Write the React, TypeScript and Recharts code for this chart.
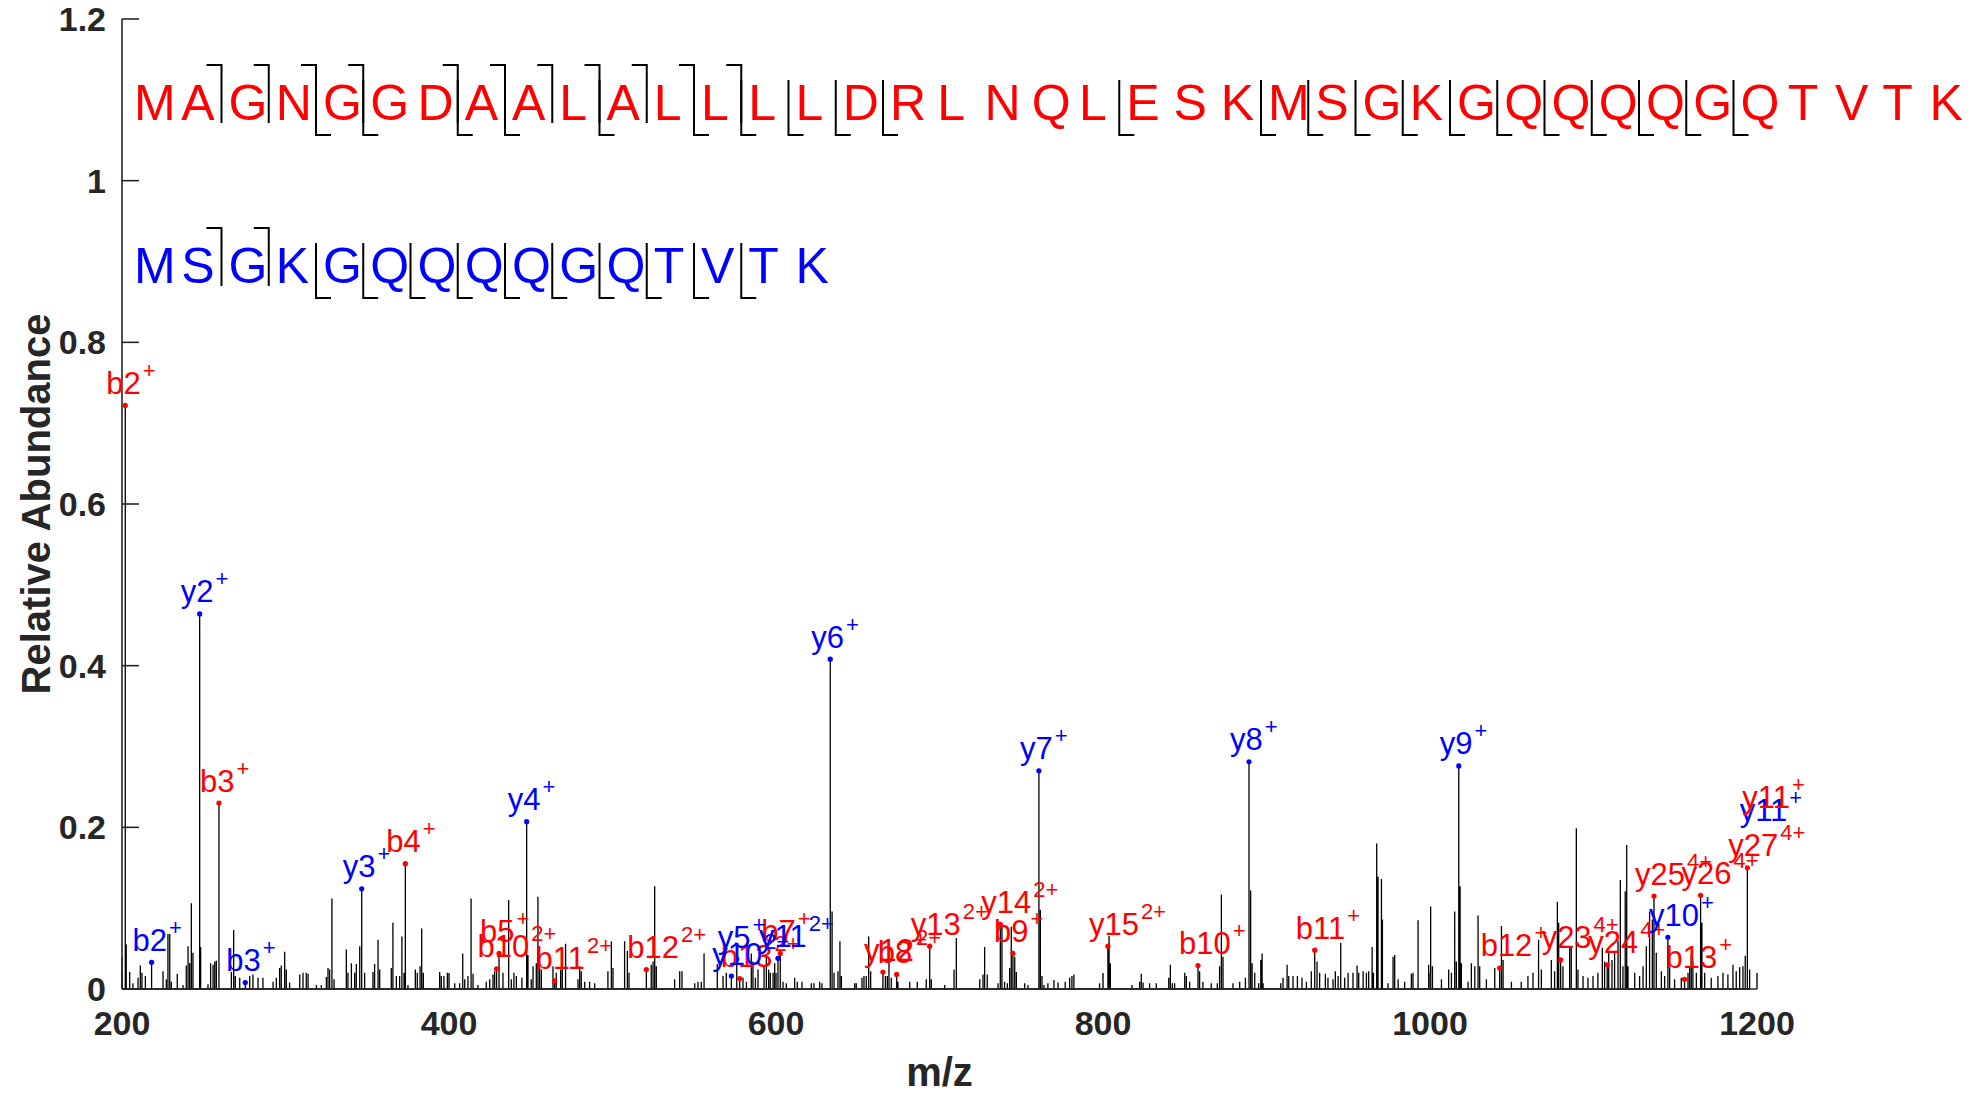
import { ComposedChart, Line, Scatter, XAxis, YAxis, ReferenceDot } from 'recharts'

const FONT = '"Liberation Sans", Arial, Helvetica, sans-serif'
const INK = '#262626'
const RED = '#ff0000'
const BLUE = '#0000ff'

const xTicks = [200, 400, 600, 800, 1000, 1200]
const yTicks = [0, 0.2, 0.4, 0.6, 0.8, 1, 1.2]

const redSequence = 'MAGNGGDAALALLLLDRLNQLESKMSGKGQQQQGQTVTK'
const blueSequence = 'MSGKGQQQQGQTVTK'

// cleavage sites (after residue n) with a matched b / y fragment
const redBSites = [2, 3, 4, 5, 7, 8, 9, 10, 11, 12, 13]
const redYSites = [4, 5, 7, 8, 10, 12, 13, 14, 15, 16, 21, 24, 25, 26, 27, 28, 29, 30, 31, 32, 33, 34]
const blueBSites = [2, 3]
const blueYSites = [4, 5, 6, 7, 8, 9, 10, 11, 12, 13]

// [ion, charge, m/z, relative abundance]
type Ion = [string, string, number, number]

const redIons: Ion[] = [
  ['b2', '+', 202.0, 0.722], ['b3', '+', 259.3, 0.23], ['b4', '+', 373.3, 0.155],
  ['b10', '2+', 429.1, 0.025], ['b5', '+', 430.6, 0.044], ['b11', '2+', 464.6, 0.01],
  ['b12', '2+', 520.7, 0.024], ['b13', '2+', 577.8, 0.013], ['b7', '+', 602.6, 0.044],
  ['y12', '2+', 665.4, 0.021], ['b8', '+', 673.8, 0.018], ['y13', '2+', 694.0, 0.053],
  ['y14', '2+', 737.2, 0.08], ['b9', '+', 744.9, 0.044], ['y15', '2+', 803.0, 0.053],
  ['b10', '+', 858.1, 0.029], ['b11', '+', 929.5, 0.048], ['b12', '+', 1042.6, 0.026],
  ['y23', '4+', 1079.9, 0.036], ['y24', '4+', 1108.4, 0.03], ['y25', '4+', 1137.0, 0.115],
  ['b13', '+', 1155.7, 0.012], ['y26', '4+', 1165.5, 0.116], ['y27', '4+', 1194.1, 0.15],
  ['y11', '+', 1202.6, 0.21],
]

const blueIons: Ion[] = [
  ['b2', '+', 218.1, 0.033], ['y2', '+', 247.5, 0.464], ['b3', '+', 275.4, 0.008],
  ['y3', '+', 346.6, 0.124], ['y4', '+', 447.5, 0.207], ['y10', '2+', 572.7, 0.016],
  ['y5', '+', 576.0, 0.037], ['y11', '2+', 601.2, 0.038], ['y6', '+', 633.2, 0.408],
  ['y7', '+', 760.8, 0.27], ['y8', '+', 889.3, 0.281], ['y9', '+', 1017.6, 0.276],
  ['y10', '+', 1145.5, 0.064], ['y11', '+', 1201.0, 0.193],
]

// unassigned peaks [m/z, relative abundance]
const peaks: [number, number][] = [
  [200.0, 0.04], [202.6, 0.055], [204.7, 0.021], [206.7, 0.007], [209.8, 0.014], [211.2, 0.029],
  [212.2, 0.02], [214.3, 0.016], [225.1, 0.022], [227.1, 0.012], [228.1, 0.068], [229.2, 0.068],
  [230.2, 0.009], [233.8, 0.019], [237.3, 0.005], [239.3, 0.029], [240.4, 0.053], [241.4, 0.032],
  [242.4, 0.106], [243.4, 0.045], [248.1, 0.052], [252.6, 0.006], [254.2, 0.032], [255.7, 0.03],
  [256.7, 0.034], [257.7, 0.035], [266.9, 0.021], [268.3, 0.073], [269.3, 0.016], [272.0, 0.014],
  [278.1, 0.016], [280.1, 0.018], [283.2, 0.014], [286.2, 0.014], [292.4, 0.009], [294.4, 0.014],
  [296.4, 0.026], [297.4, 0.029], [299.5, 0.046], [300.5, 0.024], [302.5, 0.008], [308.7, 0.018],
  [310.7, 0.02], [312.7, 0.02], [313.8, 0.019], [318.9, 0.005], [321.9, 0.005], [325.0, 0.015],
  [326.0, 0.026], [327.0, 0.024], [328.4, 0.112], [329.7, 0.012], [337.2, 0.049], [338.2, 0.02],
  [340.3, 0.032], [342.3, 0.02], [343.3, 0.031], [345.4, 0.053], [348.4, 0.02], [353.5, 0.021],
  [354.5, 0.031], [356.6, 0.061], [357.6, 0.024], [364.7, 0.026], [365.7, 0.082], [367.8, 0.016],
  [369.8, 0.016], [371.2, 0.065], [372.5, 0.02], [374.9, 0.005], [379.4, 0.024], [380.6, 0.02],
  [382.3, 0.028], [383.3, 0.075], [384.3, 0.02], [394.3, 0.021], [395.3, 0.016], [396.9, 0.016],
  [399.0, 0.02], [403.5, 0.007], [406.5, 0.007], [408.4, 0.044], [409.6, 0.012], [411.6, 0.016],
  [413.5, 0.112], [414.7, 0.019], [417.7, 0.005], [422.8, 0.009], [424.9, 0.012], [426.9, 0.018],
  [427.9, 0.022], [433.0, 0.02], [436.5, 0.11], [438.1, 0.012], [439.7, 0.02], [441.2, 0.016],
  [444.6, 0.014], [448.3, 0.042], [450.3, 0.012], [451.4, 0.028], [453.4, 0.032], [454.4, 0.114],
  [455.4, 0.04], [456.5, 0.024], [463.6, 0.028], [465.6, 0.02], [468.3, 0.024], [469.3, 0.032],
  [471.3, 0.056], [478.9, 0.012], [479.9, 0.028], [480.9, 0.022], [483.0, 0.009], [486.0, 0.009],
  [489.1, 0.007], [497.2, 0.022], [499.3, 0.059], [500.3, 0.026], [507.4, 0.059], [509.1, 0.047],
  [510.1, 0.02], [523.7, 0.03], [524.8, 0.034], [525.8, 0.127], [526.8, 0.028], [538.0, 0.012],
  [541.1, 0.022], [542.5, 0.022], [550.3, 0.007], [552.3, 0.009], [554.3, 0.009], [556.0, 0.044],
  [564.1, 0.031], [567.6, 0.016], [569.6, 0.02], [579.8, 0.014], [581.9, 0.009], [584.9, 0.044],
  [585.9, 0.034], [587.4, 0.014], [589.0, 0.024], [592.7, 0.028], [594.1, 0.042], [595.5, 0.024],
  [596.5, 0.02], [598.2, 0.02], [599.2, 0.032], [604.3, 0.009], [606.3, 0.007], [611.4, 0.014],
  [613.0, 0.009], [615.9, 0.009], [621.6, 0.007], [623.2, 0.007], [626.7, 0.009], [628.1, 0.007],
  [634.3, 0.096], [635.5, 0.02], [637.9, 0.022], [639.1, 0.059], [640.0, 0.016], [648.1, 0.007],
  [649.1, 0.007], [652.6, 0.014], [653.8, 0.016], [655.2, 0.016], [656.7, 0.065], [657.9, 0.022],
  [666.9, 0.016], [668.1, 0.016], [669.1, 0.044], [670.5, 0.014], [674.6, 0.009], [681.8, 0.009],
  [686.4, 0.009], [691.9, 0.012], [695.0, 0.012], [703.2, 0.005], [708.9, 0.024], [710.3, 0.063],
  [724.6, 0.012], [726.6, 0.018], [727.6, 0.052], [729.2, 0.018], [735.8, 0.007], [738.2, 0.08],
  [739.8, 0.009], [741.5, 0.007], [742.9, 0.026], [743.9, 0.077], [746.0, 0.04], [747.0, 0.021],
  [752.1, 0.007], [754.1, 0.005], [761.7, 0.098], [762.7, 0.016], [763.9, 0.005], [766.3, 0.007],
  [770.0, 0.011], [772.5, 0.008], [776.9, 0.009], [779.6, 0.014], [781.0, 0.016], [782.2, 0.018],
  [797.9, 0.007], [803.7, 0.066], [804.5, 0.032], [817.7, 0.005], [822.4, 0.009], [823.4, 0.019],
  [824.5, 0.008], [828.5, 0.007], [832.6, 0.007], [840.2, 0.014], [841.2, 0.03], [842.4, 0.007],
  [843.8, 0.007], [850.0, 0.02], [851.0, 0.016], [853.0, 0.009], [859.1, 0.022], [861.1, 0.009],
  [866.2, 0.007], [869.9, 0.007], [871.3, 0.028], [872.4, 0.117], [873.4, 0.04], [879.5, 0.007],
  [883.6, 0.009], [887.1, 0.014], [890.3, 0.122], [891.2, 0.032], [892.8, 0.02], [895.2, 0.007],
  [896.5, 0.036], [897.3, 0.044], [897.9, 0.007], [908.7, 0.007], [910.1, 0.014], [912.6, 0.03],
  [913.6, 0.016], [916.2, 0.016], [918.9, 0.016], [921.7, 0.014], [924.4, 0.009], [927.4, 0.022],
  [930.9, 0.034], [932.5, 0.02], [936.0, 0.019], [937.6, 0.014], [940.7, 0.012], [942.1, 0.022],
  [943.8, 0.016], [945.4, 0.057], [947.8, 0.014], [949.9, 0.02], [952.9, 0.02], [955.4, 0.029],
  [956.4, 0.02], [959.1, 0.022], [961.1, 0.02], [962.5, 0.022], [964.6, 0.052], [965.4, 0.02],
  [967.4, 0.18], [968.2, 0.139], [970.3, 0.136], [970.9, 0.086], [974.3, 0.007], [977.4, 0.04],
  [978.4, 0.042], [980.5, 0.012], [984.5, 0.009], [988.6, 0.019], [989.6, 0.02], [992.7, 0.085],
  [999.2, 0.03], [1000.4, 0.102], [1001.5, 0.028], [1007.0, 0.012], [1011.4, 0.024], [1013.1, 0.02],
  [1015.1, 0.096], [1016.1, 0.034], [1018.4, 0.127], [1019.2, 0.032], [1023.3, 0.009], [1025.3, 0.032],
  [1027.4, 0.028], [1029.4, 0.091], [1030.4, 0.028], [1034.5, 0.012], [1039.6, 0.026], [1043.7, 0.078],
  [1044.7, 0.036], [1049.8, 0.009], [1055.8, 0.009], [1059.9, 0.016], [1063.0, 0.02], [1066.4, 0.061],
  [1068.1, 0.024], [1074.2, 0.036], [1076.2, 0.022], [1077.9, 0.108], [1078.7, 0.082], [1081.3, 0.028],
  [1085.4, 0.053], [1086.4, 0.051], [1089.5, 0.199], [1090.5, 0.024], [1093.6, 0.016], [1096.6, 0.014],
  [1099.7, 0.016], [1102.7, 0.02], [1105.4, 0.051], [1106.8, 0.034], [1109.3, 0.045], [1111.3, 0.036],
  [1112.9, 0.045], [1115.0, 0.06], [1116.4, 0.135], [1118.0, 0.028], [1119.4, 0.121], [1120.3, 0.178],
  [1121.1, 0.028], [1125.2, 0.02], [1128.2, 0.016], [1130.3, 0.028], [1132.3, 0.053], [1134.3, 0.096],
  [1136.0, 0.086], [1138.4, 0.045], [1141.5, 0.022], [1143.5, 0.016], [1146.6, 0.053], [1149.6, 0.012],
  [1153.7, 0.014], [1157.8, 0.02], [1158.8, 0.028], [1159.8, 0.042], [1160.8, 0.034], [1162.9, 0.02],
  [1166.3, 0.082], [1168.0, 0.02], [1172.0, 0.014], [1176.1, 0.016], [1179.2, 0.02], [1182.2, 0.018],
  [1185.3, 0.03], [1187.3, 0.022], [1189.4, 0.027], [1191.4, 0.028], [1192.8, 0.041], [1195.5, 0.024],
]

const inView = (mz: number) => mz >= 200 && mz <= 1200

const sticks = [...peaks, ...redIons.map((i) => [i[2], i[3]]), ...blueIons.map((i) => [i[2], i[3]])]
  .filter((p) => inView(p[0]))
  .sort((a, b) => a[0] - b[0])
  .flatMap(([mz, v]) => [{ mz, v: 0 }, { mz, v }, { mz, v: 0 }])

const toDots = (ions: Ion[]) => ions.filter((i) => inView(i[2])).map((i) => ({ mz: i[2], v: i[3] }))

function IonLabel({ cx, cy, name, charge, color }: any) {
  return (
    <text x={cx - 19} y={cy - 11.5} fill={color} fontSize={31} fontFamily={FONT}>
      {name}
      <tspan dx={2} dy={-16} fontSize={22}>{charge}</tspan>
    </text>
  )
}

function SequenceRow({ seq, color, baseline, bSites, ySites }: any) {
  const step = 47.25
  const x0 = 134
  return (
    <g>
      {seq.split('').map((c: string, i: number) => (
        <text key={i} x={x0 + i * step} y={baseline} fill={color} fontSize={50} fontFamily={FONT}>{c}</text>
      ))}
      {bSites.map((k: number) => {
        const x = x0 - 7 + k * step
        return <path key={'b' + k} d={`M${x - 15},${baseline - 55} H${x} V${baseline + 3}`} stroke="#000" strokeWidth={2} fill="none" />
      })}
      {ySites.map((k: number) => {
        const x = x0 - 7 + k * step
        return <path key={'y' + k} d={`M${x},${baseline - 40} V${baseline + 15} H${x + 15}`} stroke="#000" strokeWidth={2} fill="none" />
      })}
    </g>
  )
}

const tickStyle = { fill: INK, fontSize: 34, fontWeight: 'bold', fontFamily: FONT }

export default function App() {
  return (
    <div style={{ position: 'absolute', left: 0, top: 0, width: 1982, height: 1094, background: '#fff' }}>
      <ComposedChart width={1982} height={1094} data={sticks} margin={{ top: 19, right: 225, bottom: 45, left: 62 }}>
        <XAxis
          type="number"
          dataKey="mz"
          domain={[200, 1200]}
          ticks={xTicks}
          interval={0}
          height={60}
          tick={tickStyle}
          tickSize={-16}
          tickMargin={38}
          axisLine={{ stroke: INK, strokeWidth: 1.6 }}
          tickLine={{ stroke: INK, strokeWidth: 1.6 }}
        />
        <YAxis
          type="number"
          dataKey="v"
          domain={[0, 1.2]}
          ticks={yTicks}
          interval={0}
          width={60}
          tick={tickStyle}
          tickSize={-17}
          tickMargin={33}
          axisLine={{ stroke: INK, strokeWidth: 1.6 }}
          tickLine={{ stroke: INK, strokeWidth: 1.6 }}
        />
        <Line dataKey="v" type="linear" stroke="#000" strokeWidth={1.3} strokeLinejoin="bevel" dot={false} isAnimationActive={false} />
        <Scatter
          data={toDots(redIons)}
          dataKey="v"
          isAnimationActive={false}
          shape={(p: any) => <circle cx={p.cx} cy={p.cy} r={2.6} fill={RED} />}
        />
        <Scatter
          data={toDots(blueIons)}
          dataKey="v"
          isAnimationActive={false}
          shape={(p: any) => <circle cx={p.cx} cy={p.cy} r={2.6} fill={BLUE} />}
        />
        {blueIons.filter((ion) => !inView(ion[2])).map((ion, i) => (
          <ReferenceDot
            key={'bo' + i}
            x={ion[2]}
            y={ion[3]}
            ifOverflow="visible"
            shape={(p: any) => <IonLabel cx={p.cx} cy={p.cy} name={ion[0]} charge={ion[1]} color={BLUE} />}
          />
        ))}
        {redIons.map((ion, i) => (
          <ReferenceDot
            key={'r' + i}
            x={ion[2]}
            y={ion[3]}
            ifOverflow="visible"
            shape={(p: any) => <IonLabel cx={p.cx} cy={p.cy} name={ion[0]} charge={ion[1]} color={RED} />}
          />
        ))}
        {blueIons.filter((ion) => inView(ion[2])).map((ion, i) => (
          <ReferenceDot
            key={'bl' + i}
            x={ion[2]}
            y={ion[3]}
            ifOverflow="visible"
            shape={(p: any) => <IonLabel cx={p.cx} cy={p.cy} name={ion[0]} charge={ion[1]} color={BLUE} />}
          />
        ))}
      </ComposedChart>
      <svg width={1982} height={1094} style={{ position: 'absolute', left: 0, top: 0, pointerEvents: 'none' }}>
        <SequenceRow seq={redSequence} color={RED} baseline={120} bSites={redBSites} ySites={redYSites} />
        <SequenceRow seq={blueSequence} color={BLUE} baseline={283} bSites={blueBSites} ySites={blueYSites} />
        <text x={939.5} y={1086} textAnchor="middle" fill={INK} fontSize={40} fontWeight="bold" fontFamily={FONT}>m/z</text>
        <text x={50} y={504} transform="rotate(-90 50 504)" textAnchor="middle" fill={INK} fontSize={40} fontWeight="bold" fontFamily={FONT}>
          Relative Abundance
        </text>
      </svg>
    </div>
  )
}
